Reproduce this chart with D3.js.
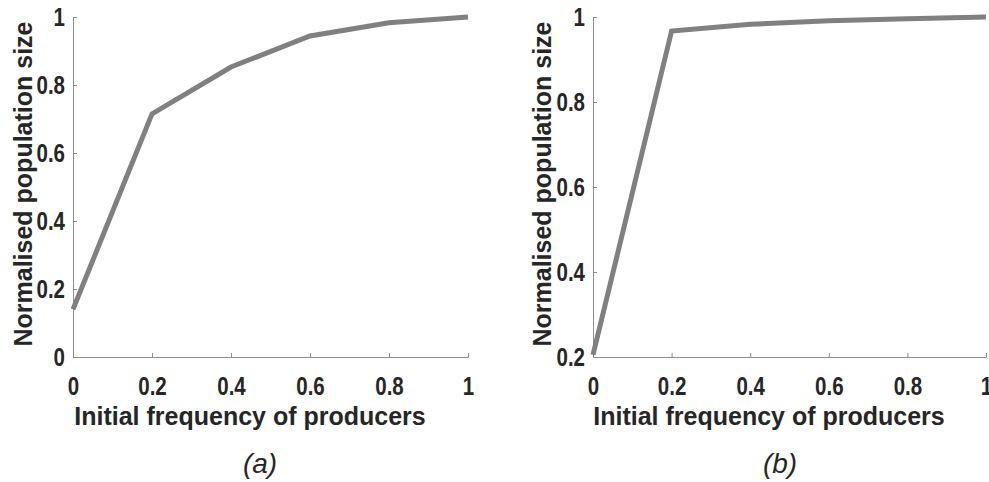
<!DOCTYPE html>
<html>
<head>
<meta charset="utf-8">
<script src="https://cdn.jsdelivr.net/npm/d3@7"></script>
<style>
  body { margin: 0; background: #fff; }
  .tick text { font-family: "Liberation Sans", Arial, sans-serif; font-weight: bold; font-size: 25px; fill: #262626; }
  .axis-label { font-family: "Liberation Sans", Arial, sans-serif; font-weight: bold; font-size: 25px; fill: #262626; }
  .panel-label { font-family: "Liberation Sans", Arial, sans-serif; font-style: italic; font-size: 28px; fill: #262626; }
</style>
</head>
<body>
<div id="main"></div>
<script>
// data
var freq = [0, 0.2, 0.4, 0.6, 0.8, 1];
var popA = [0.14, 0.715, 0.853, 0.944, 0.983, 1.0];
var popB = [0.205, 0.967, 0.983, 0.991, 0.996, 1.0];
var xTicks = [0, 0.2, 0.4, 0.6, 0.8, 1];
var yTicksA = [0, 0.2, 0.4, 0.6, 0.8, 1];
var yTicksB = [0.2, 0.4, 0.6, 0.8, 1];

var svg = d3.select("#main")
  .append("svg")
    .attr("width", 989)
    .attr("height", 482);

var panels = [
  {left: 73, right: 468, yDomain: [0, 1], yTicks: yTicksA, values: popA, yLabelX: 32, xLabelX: 250, tagX: 260, tag: "(a)"},
  {left: 593, right: 986, yDomain: [0.2, 1], yTicks: yTicksB, values: popB, yLabelX: 551, xLabelX: 769, tagX: 780, tag: "(b)"}
];
var plotTop = 17, plotBottom = 357;
var squeeze = 0.82; // tick font is a condensed face

panels.forEach(function(p) {
  var x = d3.scaleLinear().domain([0, 1]).range([p.left, p.right]);
  var y = d3.scaleLinear().domain(p.yDomain).range([plotBottom, plotTop]);

  // x axis, ticks pointing inward
  var gx = svg.append("g")
    .attr("transform", "translate(0," + plotBottom + ")")
    .call(d3.axisBottom(x).tickValues(xTicks).tickSize(-4).tickPadding(20).tickFormat(function(d) { return String(d); }));
  gx.selectAll("line, path").attr("stroke", "#8c8c8c");
  gx.selectAll(".tick text").attr("transform", "scale(" + squeeze + ",1)");

  // y axis
  var gy = svg.append("g")
    .attr("transform", "translate(" + p.left + ",0)")
    .call(d3.axisLeft(y).tickValues(p.yTicks).tickSize(-4).tickFormat(function(d) { return String(d); }));
  gy.selectAll("line, path").attr("stroke", "#8c8c8c");
  gy.selectAll(".tick text")
    .attr("x", -8 / squeeze)
    .attr("transform", "scale(" + squeeze + ",1)");

  var line = d3.line()
    .x(function(d, i) { return x(freq[i]); })
    .y(function(d) { return y(d); });

  svg.append("path")
    .datum(p.values)
    .attr("d", line)
    .attr("fill", "none")
    .attr("stroke", "#808080")
    .attr("stroke-width", 5);

  svg.append("text")
    .attr("class", "axis-label")
    .attr("text-anchor", "middle")
    .attr("x", p.xLabelX)
    .attr("y", 425)
    .text("Initial frequency of producers");

  svg.append("text")
    .attr("class", "axis-label")
    .attr("text-anchor", "middle")
    .attr("transform", "translate(" + p.yLabelX + ",184) rotate(-90)")
    .text("Normalised population size");

  svg.append("text")
    .attr("class", "panel-label")
    .attr("text-anchor", "middle")
    .attr("x", p.tagX)
    .attr("y", 473)
    .text(p.tag);
});
</script>
</body>
</html>
